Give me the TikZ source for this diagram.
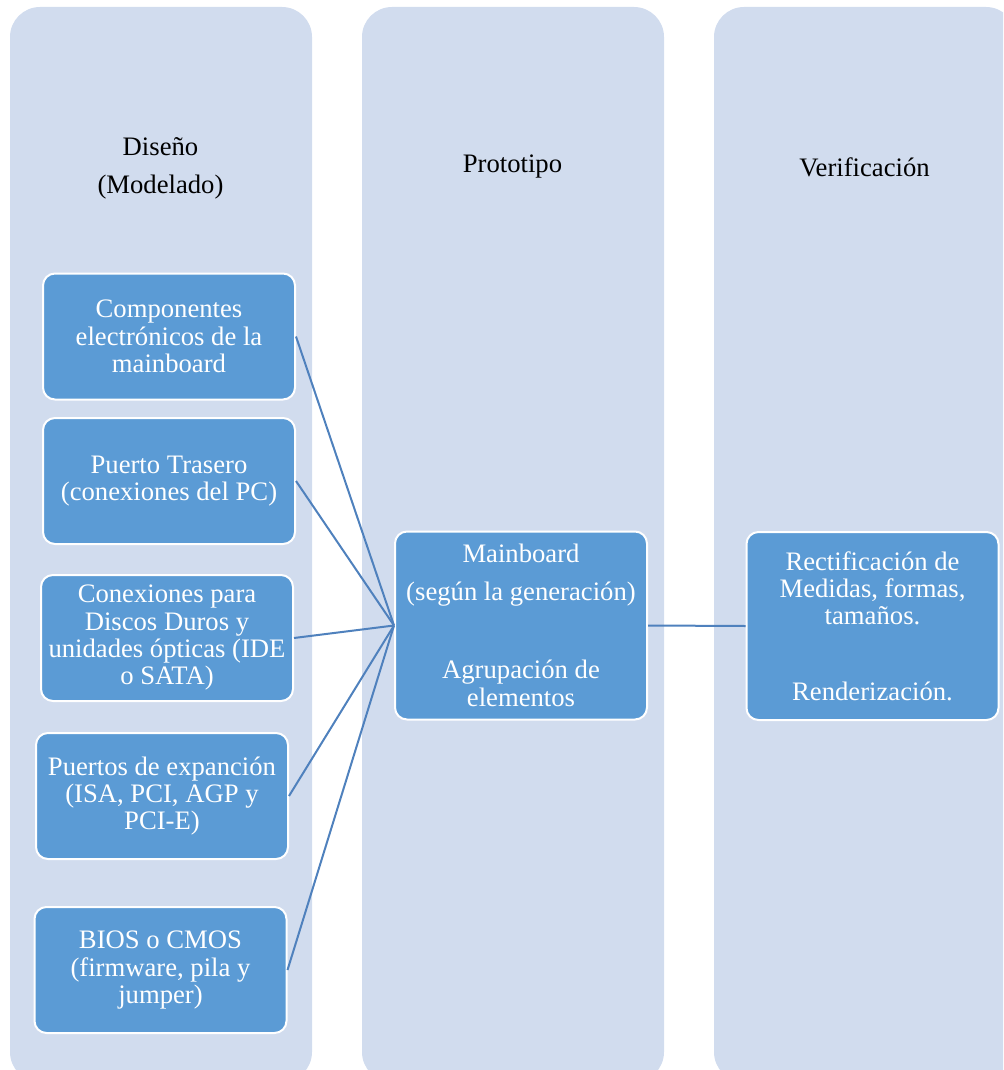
\documentclass[tikz,border=0pt]{standalone}
\usepackage{fontspec}
\setmainfont{Liberation Serif}
\definecolor{lanefill}{RGB}{209,220,238}
\definecolor{boxfill}{RGB}{91,155,213}
\definecolor{linkblue}{RGB}{79,129,189}

\begin{document}
\begin{tikzpicture}[
		x=0.75pt, y=-0.75pt,
		every node/.style={align=center, font=\fontsize{20pt}{20.5pt}\selectfont},
		lane/.style={fill=lanefill, rounded corners=22.5pt},
		item/.style={draw=white, line width=1.5pt, fill=boxfill, text=white, rounded corners=9pt, minimum width=189pt, minimum height=94.5pt, inner sep=2pt},
		bigitem/.style={item, minimum height=141pt},
		link/.style={draw=linkblue, line width=1.5pt},
	]
	\path[use as bounding box, clip] (0,0) rectangle (1003,1070);

	% three lanes
	\foreach \lx in {10, 362, 714}
		\fill[lane] (\lx,7) rectangle ++(302,1075);

	\node (t1) at (160.5, 168) {Diseño\\[8pt](Modelado)};
	\node (t2) at (512.5, 167) {Prototipo};
	\node (t3) at (864.5, 167) {Verificación};

	\node[item] (b1) at (169, 336.5) {Componentes\\electrónicos de la\\mainboard};
	\node[item] (b2) at (169, 481)   {Puerto Trasero\\(conexiones del PC)};
	\node[item] (b3) at (167, 638)   {Conexiones para\\Discos Duros y\\unidades ópticas (IDE\\o SATA)};
	\node[item] (b4) at (162, 796)   {Puertos de expanción\\(ISA, PCI, AGP y\\PCI-E)};
	\node[item] (b5) at (160.5, 970) {BIOS o CMOS\\(firmware, pila y\\jumper)};

	\node[bigitem] (main)  at (521, 625.5) {Mainboard\\[8pt](según la generación)\\[38pt]Agrupación de\\elementos};
	\node[bigitem] (verif) at (872.5, 626) {Rectificación de\\Medidas, formas,\\tamaños.\\[36pt]Renderización.};

	\foreach \b in {b1, b2, b3, b4, b5}
		\draw[link] (\b.east) -- (main.west);
	\draw[link] (main.east) -- (verif.west);
\end{tikzpicture}
\end{document}
